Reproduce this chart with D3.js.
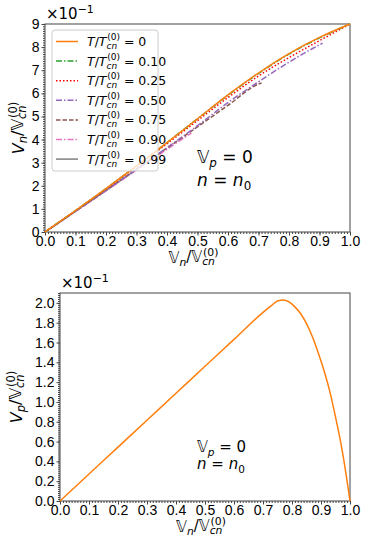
<!DOCTYPE html>
<html>
<head>
<meta charset="utf-8">
<script src="https://cdn.jsdelivr.net/npm/d3@7"></script>
<style>
  body { margin: 0; background: #fff; }
  svg { font-family: "DejaVu Sans", sans-serif; }
  .tick text { font-size: 14px; fill: #000; }
  .tick line, .domain { stroke: #444; }
</style>
</head>
<body>
<div id="chart"></div>
<script>
const width = 366;
const height = 550;

// ---- data ----
// top panel: V_n / Vcn(0) vs 𝕍_n / 𝕍cn(0), one series per temperature
const xFull = [0, 0.1, 0.2, 0.3, 0.4, 0.5, 0.6, 0.7, 0.8, 0.9, 1.0];
const vnT000 = [0, 0.093, 0.188, 0.286, 0.387, 0.490, 0.593, 0.688, 0.772, 0.842, 0.900];
const vnT010 = [0, 0.093, 0.188, 0.286, 0.387, 0.490, 0.592, 0.686, 0.770, 0.840, 0.900];
const vnT025 = [0, 0.092, 0.186, 0.283, 0.382, 0.482, 0.582, 0.675, 0.755, 0.828, 0.900];
const xT050 = [0, 0.1, 0.2, 0.3, 0.4, 0.5, 0.6, 0.7, 0.8, 0.9, 0.91];
const vnT050 = [0, 0.090, 0.180, 0.272, 0.365, 0.460, 0.560, 0.650, 0.735, 0.810, 0.817];
const xT075 = [0, 0.1, 0.2, 0.3, 0.4, 0.5, 0.6, 0.7, 0.71];
const vnT075 = [0, 0.090, 0.180, 0.272, 0.363, 0.455, 0.548, 0.640, 0.645];
const xT090 = [0, 0.1, 0.2, 0.3, 0.4, 0.48];
const vnT090 = [0, 0.089, 0.178, 0.268, 0.358, 0.428];
const xT099 = [0, 0.1, 0.2, 0.3];
const vnT099 = [0, 0.090, 0.180, 0.270];

const tempLabels = ["0", "0.10", "0.25", "0.50", "0.75", "0.90", "0.99"];

// bottom panel: V_p / 𝕍cn(0) vs 𝕍_n / 𝕍cn(0)
const xBottom = [0, 0.1, 0.2, 0.3, 0.4, 0.5, 0.6, 0.7, 0.73, 0.75, 0.77, 0.79, 0.81, 0.83, 0.85, 0.87, 0.89, 0.91, 0.93, 0.95, 0.96, 0.97, 0.98, 0.99, 1.0];
const vpBottom = [0, 0.0272, 0.0544, 0.0816, 0.1088, 0.136, 0.1632, 0.1904, 0.1975, 0.202, 0.203, 0.201, 0.196, 0.189, 0.179, 0.166, 0.150, 0.132, 0.111, 0.085, 0.071, 0.056, 0.039, 0.020, 0];

const xTicks = [0, 0.1, 0.2, 0.3, 0.4, 0.5, 0.6, 0.7, 0.8, 0.9, 1.0];
const yTicksTop = [0, 0.1, 0.2, 0.3, 0.4, 0.5, 0.6, 0.7, 0.8, 0.9];
const yTicksBottom = [0, 0.02, 0.04, 0.06, 0.08, 0.10, 0.12, 0.14, 0.16, 0.18, 0.20];

const svg = d3.select("#chart")
    .append("svg")
    .attr("width", width)
    .attr("height", height);

// line styles per series
const series = [
    { x: xFull, y: vnT000, color: "#ff7f0e", dash: null },
    { x: xFull, y: vnT010, color: "#2ca02c", dash: "6,2,1.5,2" },
    { x: xFull, y: vnT025, color: "#ff0000", dash: "1.5,2" },
    { x: xT050, y: vnT050, color: "#9467bd", dash: "6,2,1.5,2" },
    { x: xT075, y: vnT075, color: "#8c564b", dash: "4.5,2" },
    { x: xT090, y: vnT090, color: "#e377c2", dash: "6,2,1.5,2" },
    { x: xT099, y: vnT099, color: "#7f7f7f", dash: null }
];

// writes "V_sub / 𝕍_cn^(0)" style label into a text element
function ratioLabel(sel, first, firstSub, firstItalic) {
    sel.append("tspan").attr("font-style", firstItalic ? "italic" : "normal").text(first);
    sel.append("tspan").attr("font-style", "italic").attr("font-size", "0.72em").attr("dy", "0.25em").text(firstSub);
    sel.append("tspan").attr("dy", "-0.25em").text("/𝕍");
    sel.append("tspan").attr("font-style", "italic").attr("font-size", "0.72em").attr("dy", "0.3em").text("cn");
    sel.append("tspan").attr("font-size", "0.72em").attr("dx", "-1.1em").attr("dy", "-0.85em").text("(0)");
}

function drawPanel(opt) {
    const g = svg.append("g");
    const x = d3.scaleLinear().domain([0, 1]).range([opt.left, opt.right]);
    const y = d3.scaleLinear().domain([0, opt.ymax]).range([opt.bottom, opt.top]);

    // frame
    g.append("rect")
        .attr("x", opt.left).attr("y", opt.top)
        .attr("width", opt.right - opt.left).attr("height", opt.bottom - opt.top)
        .attr("fill", "none").attr("stroke", "#444").attr("stroke-width", 1);

    // minor ticks
    g.append("g")
        .attr("transform", `translate(0,${opt.bottom})`)
        .call(d3.axisBottom(x).tickValues(d3.range(0, 1.0001, 0.01)).tickSize(2).tickFormat(""))
        .call(a => a.select(".domain").remove());
    g.append("g")
        .attr("transform", `translate(${opt.left},0)`)
        .call(d3.axisLeft(y).tickValues(d3.range(0, opt.ymax + 1e-9, opt.minorStep)).tickSize(2).tickFormat(""))
        .call(a => a.select(".domain").remove());

    // major ticks
    g.append("g")
        .attr("transform", `translate(0,${opt.bottom})`)
        .call(d3.axisBottom(x).tickValues(xTicks).tickSize(3.5).tickPadding(1).tickFormat(d3.format(".1f")))
        .call(a => a.select(".domain").remove());
    g.append("g")
        .attr("transform", `translate(${opt.left},0)`)
        .call(d3.axisLeft(y).tickValues(opt.yTicks).tickSize(3.5).tickPadding(2).tickFormat(opt.yFormat))
        .call(a => a.select(".domain").remove());

    // offset text
    const off = g.append("text")
        .attr("x", opt.left + 1).attr("y", opt.top - 5)
        .attr("font-size", 15);
    off.append("tspan").text("×10");
    off.append("tspan").attr("font-size", 11).attr("dy", -6).text("−1");

    // axis labels
    const xl = g.append("text")
        .attr("x", (opt.left + opt.right) / 2 - 4).attr("y", opt.bottom + 31)
        .attr("text-anchor", "middle").attr("font-size", 15);
    ratioLabel(xl, "𝕍", "n", false);

    const yl = g.append("text")
        .attr("transform", `translate(${opt.ylabelX},${(opt.top + opt.bottom) / 2}) rotate(-90)`)
        .attr("text-anchor", "middle").attr("font-size", 16);
    ratioLabel(yl, "V", opt.ysub, true);

    // annotation
    const a1 = g.append("text").attr("x", opt.annX).attr("y", opt.annY1).attr("font-size", opt.annSize);
    a1.append("tspan").text("𝕍");
    a1.append("tspan").attr("font-style", "italic").attr("font-size", "0.7em").attr("dy", 4).text("p");
    a1.append("tspan").attr("dy", -4).text(" = 0");
    const a2 = g.append("text").attr("x", opt.annX).attr("y", opt.annY2).attr("font-size", opt.annSize);
    a2.append("tspan").attr("font-style", "italic").text("n");
    a2.append("tspan").text(" = ");
    a2.append("tspan").attr("font-style", "italic").text("n");
    a2.append("tspan").attr("font-size", "0.7em").attr("dy", 4).text("0");

    return { g, x, y };
}

// ---- top panel ----
const topPanel = drawPanel({
    left: 45, right: 350, top: 24, bottom: 232, ymax: 0.9,
    minorStep: 0.01, yTicks: yTicksTop, yFormat: d => Math.round(d * 10),
    ysub: "n", ylabelX: 24, annX: 197, annY1: 163, annY2: 186, annSize: 17
});

const lineTop = (xs, ys) => d3.line()
    .x((d, i) => topPanel.x(xs[i]))
    .y(d => topPanel.y(d))
    .curve(d3.curveMonotoneX)(ys);

topPanel.g.append("g").selectAll("path")
    .data(series.slice().reverse())
    .enter()
    .append("path")
    .attr("d", d => lineTop(d.x, d.y))
    .attr("fill", "none")
    .attr("stroke", d => d.color)
    .attr("stroke-width", 1.5)
    .attr("stroke-dasharray", d => d.dash);

// legend
const legend = topPanel.g.append("g");
legend.append("rect")
    .attr("x", 52).attr("y", 30).attr("width", 106).attr("height", 141)
    .attr("rx", 3)
    .attr("fill", "#fff").attr("fill-opacity", 0.8)
    .attr("stroke", "#ccc").attr("stroke-width", 1);

series.forEach((s, i) => {
    const yy = 41.5 + i * 19.6;
    legend.append("line")
        .attr("x1", 56).attr("x2", 78).attr("y1", yy).attr("y2", yy)
        .attr("stroke", s.color).attr("stroke-width", 1.5)
        .attr("stroke-dasharray", s.dash);
    const t = legend.append("text").attr("x", 87).attr("y", yy + 4.5).attr("font-size", 12.5);
    t.append("tspan").attr("font-style", "italic").text("T");
    t.append("tspan").text("/");
    t.append("tspan").attr("font-style", "italic").text("T");
    t.append("tspan").attr("font-style", "italic").attr("font-size", 9).attr("dy", 3).text("cn");
    t.append("tspan").attr("font-size", 9).attr("dx", -10).attr("dy", -9).text("(0)");
    t.append("tspan").attr("dy", 6).text(" = " + tempLabels[i]);
});

// ---- bottom panel ----
const bottomPanel = drawPanel({
    left: 60, right: 350, top: 293, bottom: 501, ymax: 0.21,
    minorStep: 0.002, yTicks: yTicksBottom, yFormat: d => (d * 10).toFixed(1),
    ysub: "p", ylabelX: 22, annX: 197, annY1: 452, annY2: 469, annSize: 15
});

bottomPanel.g.append("path")
    .attr("d", d3.line()
        .x((d, i) => bottomPanel.x(xBottom[i]))
        .y(d => bottomPanel.y(d))
        .curve(d3.curveMonotoneX)(vpBottom))
    .attr("fill", "none")
    .attr("stroke", "#ff7f0e")
    .attr("stroke-width", 1.5);
</script>
</body>
</html>
